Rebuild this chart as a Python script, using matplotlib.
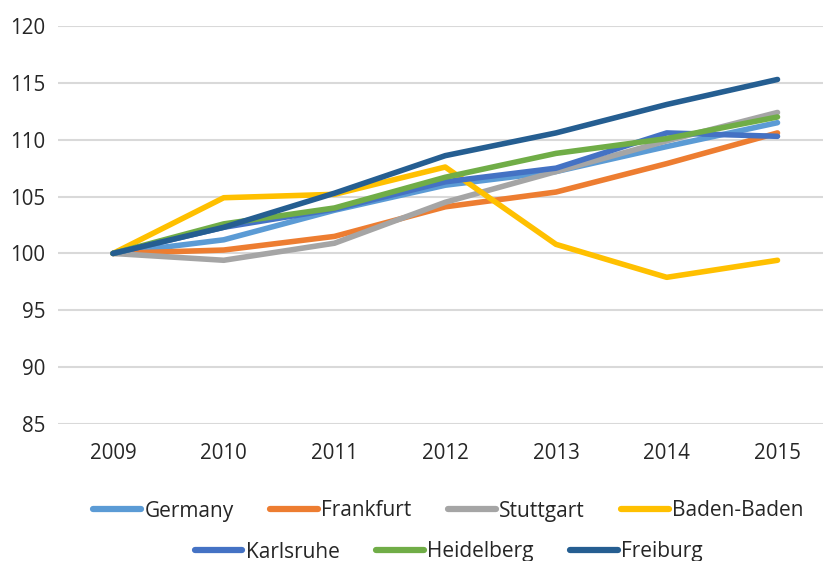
import matplotlib
matplotlib.use("Agg")
import matplotlib.pyplot as plt
from matplotlib.lines import Line2D

plt.rcParams['font.family'] = ['Open Sans', 'DejaVu Sans']

years = ["2009", "2010", "2011", "2012", "2013", "2014", "2015"]

germany = [100, 101.2, 103.8, 106.0, 107.2, 109.4, 111.5]
frankfurt = [100, 100.3, 101.5, 104.1, 105.4, 107.9, 110.6]
stuttgart = [100, 99.4, 100.9, 104.5, 107.2, 109.9, 112.4]
baden_baden = [100, 104.9, 105.2, 107.6, 100.8, 97.9, 99.4]
karlsruhe = [100, 102.3, 103.9, 106.3, 107.5, 110.6, 110.3]
heidelberg = [100, 102.6, 104.0, 106.7, 108.8, 110.1, 112.0]
freiburg = [100, 102.3, 105.3, 108.6, 110.6, 113.1, 115.3]

series_names = ["Germany", "Frankfurt", "Stuttgart", "Baden-Baden",
                "Karlsruhe", "Heidelberg", "Freiburg"]
series_values = [germany, frankfurt, stuttgart, baden_baden,
                 karlsruhe, heidelberg, freiburg]
colors = ["#5B9BD5", "#ED7D31", "#A5A5A5", "#FFC000",
          "#4472C4", "#70AD47", "#255E91"]

y_ticks = [85, 90, 95, 100, 105, 110, 115, 120]

fig = plt.figure(figsize=(8.23, 5.61), dpi=100)
ax = fig.add_axes([0.070, 0.2442, 0.942, 0.7094])

x = list(range(len(years)))
for name, vals, c in zip(series_names, series_values, colors):
    ax.plot(x, vals, color=c, lw=4.0, solid_capstyle='round',
            solid_joinstyle='round', label=name)

ax.set_xlim(-0.5, len(years) - 0.5)
ax.set_ylim(85, 120)
ax.set_yticks(y_ticks)
ax.set_xticks(x)
ax.set_xticklabels(years)
ax.grid(axis='y', color='#D9D9D9', lw=1.5)
ax.set_axisbelow(True)
for s in ax.spines.values():
    s.set_visible(False)
ax.tick_params(axis='both', length=0, labelsize=14.8, colors='#262626')
ax.tick_params(axis='y', pad=9)
ax.tick_params(axis='x', pad=14)

def make_handles(idx):
    return [Line2D([], [], color=colors[i], lw=4.5, solid_capstyle='round')
            for i in idx]

leg_kw = dict(frameon=False, fontsize=15.0, handlelength=2.3,
              handletextpad=0.15, columnspacing=1.75, borderpad=0,
              labelcolor='#262626')
row1 = [0, 1, 2, 3]
row2 = [4, 5, 6]
fig.legend(make_handles(row1), [series_names[i] for i in row1],
           loc='center', bbox_to_anchor=(0.545, 1 - 511 / 561),
           ncol=4, **leg_kw)
fig.legend(make_handles(row2), [series_names[i] for i in row2],
           loc='center', bbox_to_anchor=(0.545, 1 - 552 / 561),
           ncol=3, **leg_kw)

fig.savefig("out.png", dpi=100)
